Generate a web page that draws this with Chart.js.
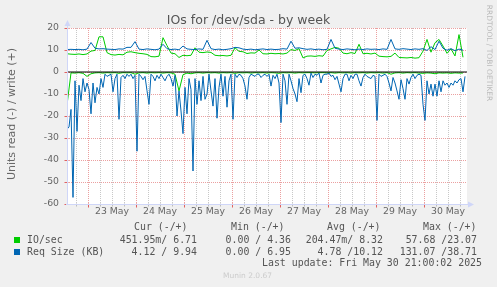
<!DOCTYPE html>
<html>
<head>
<meta charset="utf-8">
<script src="https://cdn.jsdelivr.net/npm/chart.js@4/dist/chart.umd.min.js"></script>
<style>
  html, body { margin: 0; padding: 0; background: #f0f0f0; }
  #wrap { position: relative; width: 497px; height: 287px; overflow: hidden; font-family: "DejaVu Sans", sans-serif; color: #666; }
  #wrap canvas { position: absolute; left: 0; top: 0; }
  .t { position: absolute; white-space: pre; }
  .mono { font-family: "DejaVu Sans Mono", monospace; font-size: 9.9px; line-height: 12px; color: #555; }
  .sq { position: absolute; width: 6px; height: 6px; }
</style>
</head>
<body>
<div id="wrap">
  <canvas id="chart" width="497" height="287"></canvas>

  <div class="t" style="left:0;width:497px;top:12px;text-align:center;font-size:12.5px;line-height:16px;color:#555">IOs for /dev/sda - by week</div>
  <div class="t" style="left:-88px;top:107px;width:200px;height:14px;line-height:14px;text-align:center;font-size:11px;transform:rotate(-90deg)">Units read (-) / write (+)</div>
  <div class="t" style="left:429px;top:48px;width:120px;height:10px;line-height:10px;text-align:center;font-size:7.5px;color:#bbb;transform:rotate(90deg)">RRDTOOL / TOBI OETIKER</div>

  <!-- legend -->
  <div class="t mono" style="left:134px;top:221px">Cur (-/+)</div>
  <div class="t mono" style="left:231px;top:221px">Min (-/+)</div>
  <div class="t mono" style="left:327px;top:221px">Avg (-/+)</div>
  <div class="t mono" style="left:423px;top:221px">Max (-/+)</div>

  <div class="sq" style="left:14px;top:237px;background:#00cc00"></div>
  <div class="t mono" style="left:27px;top:234px">IO/sec</div>
  <div class="t mono" style="right:300px;top:234px">451.95m/ 6.71</div>
  <div class="t mono" style="right:206px;top:234px">0.00 / 4.36</div>
  <div class="t mono" style="right:114px;top:234px">204.47m/ 8.32</div>
  <div class="t mono" style="right:20px;top:234px">57.68 /23.07</div>

  <div class="sq" style="left:14px;top:249px;background:#0066b3"></div>
  <div class="t mono" style="left:27px;top:246px">Req Size (KB)</div>
  <div class="t mono" style="right:300px;top:246px">4.12 / 9.94</div>
  <div class="t mono" style="right:206px;top:246px">0.00 / 6.95</div>
  <div class="t mono" style="right:114px;top:246px">4.78 /10.12</div>
  <div class="t mono" style="right:20px;top:246px">131.07 /38.71</div>

  <div class="t mono" style="right:15px;top:257px">Last update: Fri May 30 21:00:02 2025</div>
  <div class="t" style="left:223px;top:271px;font-size:7.5px;line-height:10px;color:#ccc">Munin 2.0.67</div>
</div>

<script>
// ── DATA ── hours are counted from 23 May 00:00

const X_MIN = -10.5;
const X_MAX = 189.5;
const dayLabels = ['23 May', '24 May', '25 May', '26 May', '27 May', '28 May', '29 May', '30 May'];
const yLabels = [20, 10, 0, -10, -20, -30, -40, -50, -60];

// Req Size read (KB), hourly, drawn negative
const sizeReadStep = 1;
const sizeRead = [
  -26, -25, -17, -57, -4, -27, -6, -13, -3, -9,
  -5, -8, -19, -5, -14, -7, -10, -3, -7, -1,
  -2, -1.5, -1, -9, -3, -1, -21.5, -2.5, -1.5, -3,
  -1, -2, -1, -3, -1.5, -36, -1, -2, -3.5, -2,
  -8.5, -14.7, -1, -2, -4, -1.5, -3, -1, -2.5, -4,
  -2, -1, -3, -6.4, -1.5, -20, -8.6, -17.7, -28, -7,
  -19, -3, -8, -45, -3, -14.7, -4, -13, -2, -12.4,
  -10, -1, -8.6, -15.5, -3, -21, -7, -1, -11, -2,
  -16, -4, -1, -21.5, -1, -2.5, -1, -1.5, -3, -6.4,
  -12.4, -2.5, -1, -1.5, -2, -1, -1, -2.5, -1.5, -1,
  -2, -1, -6.4, -1.5, -3, -1, -5, -23, -1, -4,
  -14.7, -1, -4, -7.5, -10, -13.5, -3, -9.4, -1.5, -1,
  -3, -6, -0.5, -2.5, -1, -1.5, -0.5, -5, -1.5, -1,
  -1, -0.5, -2, -1.5, -3.5, -2, -5.5, -9, -3, -1,
  -1, -4, -1.5, -3, -1, -1, -4, -6.4, -2.5, -1,
  -2, -2.5, -3, -1.5, -2, -22, -1, -2, -1.5, -1,
  -2, -5, -8.6, -2.5, -5, -8.6, -12.4, -3.5, -7.5, -12.4,
  -3, -5.5, -2.5, -1, -3, -1.5, -1, -1.5, -14.7, -22,
  -4, -10, -5.5, -11, -5.5, -11, -4, -9, -4, -6,
  -5, -7, -5, -6, -4, -5, -3.5, -3, -9, -2
];

// Req Size write (KB), every 2 hours
const sizeWriteStep = 2;
const sizeWrite = [
  10.2, 10.3, 10.2, 10.3, 10.1, 10.4, 13.4, 10.8, 10.5, 10.6,
  10.4, 10.3, 10.2, 10.5, 10.4, 11.2, 11.2, 13.8, 10.4, 10.2,
  10.5, 10.3, 10.1, 10.4, 12.6, 10.6, 10.2, 10.4, 10.1, 11.8,
  10.5, 10.3, 10.2, 10.5, 10.3, 14.4, 10.6, 10.2, 10.4, 10.1,
  10.3, 10.6, 11.2, 11.0, 10.4, 10.2, 10.4, 10.1, 10.3, 10.5,
  10.2, 10.4, 10.2, 10.3, 10.6, 10.4, 14.0, 10.8, 11.0, 10.6,
  10.3, 10.5, 10.2, 10.4, 10.1, 10.3, 14.8, 10.8, 10.4, 10.2,
  10.5, 10.3, 10.1, 10.4, 10.2, 10.5, 10.3, 10.4, 10.2, 10.5,
  10.3, 14.8, 10.5, 10.3, 10.6, 10.4, 10.2, 10.5, 10.3, 10.6,
  9.8, 11.5, 10.2, 14.0, 10.8, 9.9, 10.6, 9.7, 10.4, 9.9
];

// IO/sec read, every 2 hours, drawn negative
const ioReadStep = 2;
const ioRead = [
  -15, -0.4, -0.5, -0.3, -0.6, -2, -0.8, -0.4, -0.3, -0.5,
  -0.3, -0.4, -0.3, -0.6, -0.3, -0.4, -0.3, -1, -0.4, -0.3,
  -0.5, -0.3, -0.4, -0.3, -0.5, -0.3, -0.4, -1, -8.6, -1.2,
  -0.5, -0.8, -0.4, -0.3, -0.5, -0.3, -0.4, -0.3, -0.5, -0.3,
  -0.4, -0.3, -0.6, -0.3, -0.4, -0.3, -0.5, -0.3, -0.4, -0.3,
  -0.5, -0.3, -0.4, -0.6, -0.3, -0.4, -0.3, -0.5, -0.3, -0.4,
  -0.3, -0.3, -0.4, -0.3, -0.3, -0.4, -0.3, -0.5, -0.3, -0.4,
  -0.3, -0.5, -0.3, -0.4, -0.3, -0.5, -0.3, -0.4, -0.3, -0.5,
  -0.3, -1, -0.4, -0.3, -0.5, -0.3, -0.4, -0.3, -0.5, -0.6,
  -0.4, -0.5, -0.8, -0.4, -0.5, -0.4, -0.6, -0.4, -0.5, -0.45
];

// IO/sec write, every 2 hours
const ioWriteStep = 2;
const ioWrite = [
  8.3, 8.1, 8.0, 8.2, 7.9, 8.2, 9.5, 9.8, 16.0, 16.0,
  8.8, 7.9, 7.7, 8.0, 7.8, 9.0, 9.2, 8.8, 8.5, 8.3,
  8.0, 7.0, 6.9, 7.2, 15.6, 12.0, 8.6, 8.3, 6.6, 7.6,
  7.4, 7.6, 11.0, 9.0, 8.8, 9.1, 8.9, 7.6, 7.4, 7.5,
  7.3, 7.6, 11.0, 9.4, 9.2, 8.4, 8.7, 8.6, 10.0, 8.3,
  8.2, 8.5, 8.3, 8.4, 8.2, 8.6, 10.2, 9.8, 10.6, 6.4,
  7.2, 7.3, 7.1, 7.4, 7.2, 9.8, 10.5, 11.2, 10.8, 8.6,
  8.3, 8.8, 8.4, 12.6, 8.3, 8.5, 8.2, 8.6, 7.2, 7.0,
  6.9, 7.1, 8.6, 6.6, 6.5, 6.4, 6.6, 6.3, 6.5, 9.5,
  14.8, 9.0, 13.3, 14.8, 11.8, 8.5, 10.5, 7.3, 17.0, 6.7
];

// ── COLORS ──

const GREEN = '#00cc00';
const BLUE = '#0066b3';
const AXIS = '#cfd6f8';
const GRID_MINOR = '#c8c8c8';
const GRID_MAJOR = '#eba0a0';

function toPoints(values, step) {
  return values.map((v, i) => ({ x: X_MIN + i * step, y: v }));
}

function line(label, values, step, color, order) {
  return {
    label,
    data: toPoints(values, step),
    borderColor: color,
    borderWidth: 1,
    pointRadius: 0,
    tension: 0,
    order,
  };
}

const isMajorX = v => v % 24 === 0;
const isMajorY = v => v % 10 === 0;

// fond blanc, grille pointillée, axes et flèches (style rrdtool)
const muninFrame = {
  id: 'muninFrame',
  beforeDraw(chart) {
    const { ctx, chartArea: a } = chart;
    ctx.save();
    ctx.fillStyle = '#ffffff';
    ctx.fillRect(a.left, a.top, a.right - a.left, a.bottom - a.top);
    ctx.restore();
  },
  beforeDatasetsDraw(chart) {
    const { ctx, chartArea: a, scales: { x, y } } = chart;
    ctx.save();
    ctx.lineWidth = 1;
    ctx.setLineDash([1, 1]);
    x.ticks.forEach(t => {
      const px = Math.round(x.getPixelForValue(t.value)) + 0.5;
      ctx.strokeStyle = isMajorX(t.value) ? GRID_MAJOR : GRID_MINOR;
      ctx.beginPath(); ctx.moveTo(px, a.top); ctx.lineTo(px, a.bottom); ctx.stroke();
    });
    y.ticks.forEach(t => {
      if (t.value === y.min) return;
      const py = Math.round(y.getPixelForValue(t.value)) + 0.5;
      ctx.strokeStyle = isMajorY(t.value) ? GRID_MAJOR : GRID_MINOR;
      ctx.beginPath(); ctx.moveTo(a.left, py); ctx.lineTo(a.right, py); ctx.stroke();
    });
    ctx.restore();
  },
  afterDraw(chart) {
    const { ctx, chartArea: a, scales: { x, y } } = chart;
    const x0 = Math.round(a.left) + 0.5;
    const y0 = Math.round(a.bottom) + 0.5;
    ctx.save();
    ctx.lineWidth = 1;
    // tick marks
    x.ticks.forEach(t => {
      const px = Math.round(x.getPixelForValue(t.value)) + 0.5;
      ctx.strokeStyle = isMajorX(t.value) ? '#e06060' : '#bbbbbb';
      ctx.beginPath(); ctx.moveTo(px, y0 - 1); ctx.lineTo(px, y0 + (isMajorX(t.value) ? 3 : 2)); ctx.stroke();
    });
    y.ticks.forEach(t => {
      const py = Math.round(y.getPixelForValue(t.value)) + 0.5;
      ctx.strokeStyle = isMajorY(t.value) ? '#e06060' : '#bbbbbb';
      ctx.beginPath(); ctx.moveTo(x0 - (isMajorY(t.value) ? 3 : 2), py); ctx.lineTo(x0 + 1, py); ctx.stroke();
    });
    // axes
    ctx.strokeStyle = AXIS;
    ctx.beginPath();
    ctx.moveTo(x0, a.bottom + 1); ctx.lineTo(x0, a.top - 4);
    ctx.moveTo(a.left - 1, y0); ctx.lineTo(a.right + 2, y0);
    ctx.stroke();
    ctx.fillStyle = AXIS;
    ctx.beginPath();
    ctx.moveTo(x0, a.top - 8); ctx.lineTo(x0 - 3, a.top - 2); ctx.lineTo(x0 + 3, a.top - 2);
    ctx.closePath(); ctx.fill();
    ctx.beginPath();
    ctx.moveTo(a.right + 7, y0); ctx.lineTo(a.right + 1, y0 - 3); ctx.lineTo(a.right + 1, y0 + 3);
    ctx.closePath(); ctx.fill();
    ctx.restore();
  }
};

Chart.defaults.font.family = '"DejaVu Sans", sans-serif';
Chart.defaults.font.size = 9.3;
Chart.defaults.color = '#666';

new Chart(document.getElementById('chart'), {
  type: 'line',
  data: {
    datasets: [
      line('IO/sec read', ioRead, ioReadStep, GREEN, 4),
      line('IO/sec write', ioWrite, ioWriteStep, GREEN, 3),
      line('Req Size read', sizeRead, sizeReadStep, BLUE, 2),
      line('Req Size write', sizeWrite, sizeWriteStep, BLUE, 2),
      {
        label: 'zero',
        data: [{ x: X_MIN, y: 0 }, { x: X_MAX, y: 0 }],
        borderColor: '#000000',
        borderWidth: 1,
        pointRadius: 0,
        order: 1,
      },
    ]
  },
  options: {
    responsive: false,
    animation: false,
    events: [],
    layout: { autoPadding: false, padding: { left: 0, top: 28, right: 30, bottom: 63 } },
    plugins: { legend: { display: false }, tooltip: { enabled: false } },
    scales: {
      x: {
        type: 'linear',
        min: X_MIN,
        max: X_MAX,
        afterFit: s => { s.height = 20; },
        afterBuildTicks: s => {
          const ticks = [];
          for (let v = Math.ceil(X_MIN / 6) * 6; v <= X_MAX; v += 6) ticks.push({ value: v });
          s.ticks = ticks;
        },
        ticks: {
          autoSkip: false,
          maxRotation: 0,
          padding: 2,
          callback: v => (v % 24 === 12 ? dayLabels[(v - 12) / 24] : ''),
        },
        grid: { display: false, drawTicks: false },
        border: { display: false },
      },
      y: {
        min: yLabels[yLabels.length - 1],
        max: yLabels[0],
        afterFit: s => { s.width = 67; },
        ticks: {
          stepSize: 5,
          padding: 8,
          callback: v => (yLabels.includes(v) ? String(v) : ''),
        },
        grid: { display: false, drawTicks: false },
        border: { display: false },
      }
    }
  },
  plugins: [muninFrame]
});
</script>
</body>
</html>
